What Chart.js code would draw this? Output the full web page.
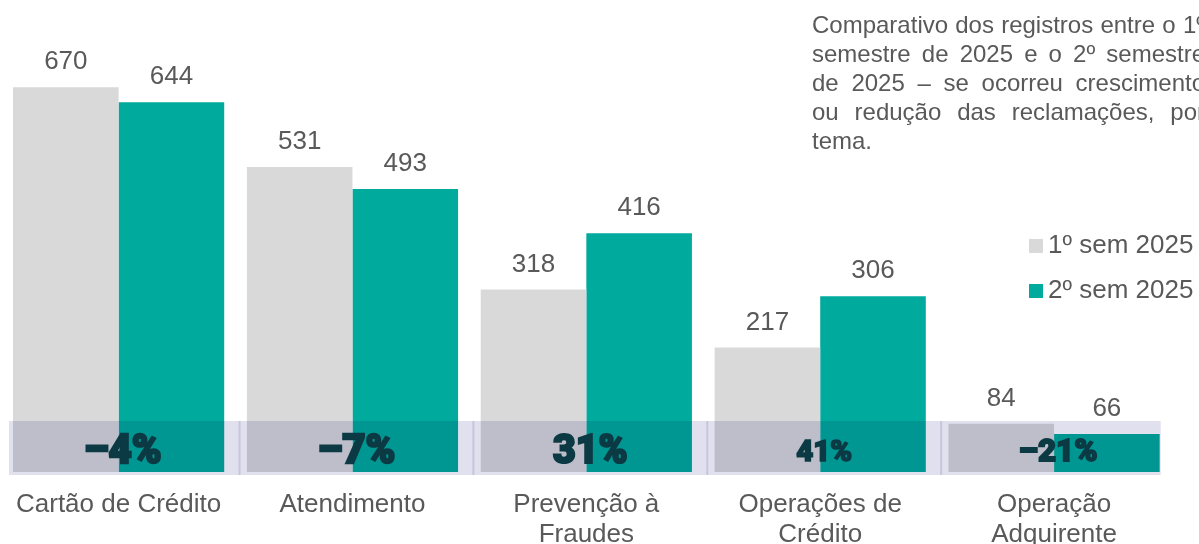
<!DOCTYPE html>
<html>
<head>
<meta charset="UTF-8" />
<script src="https://cdn.jsdelivr.net/npm/chart.js"></script>
<style>
  body, html {
    margin: 0;
    padding: 0;
    background: #ffffff;
    overflow: hidden;
    width: 1199px;
    height: 544px;
  }
  #wrap {
    position: relative;
    width: 1199px;
    height: 544px;
  }
  canvas {
    position: absolute;
    left: -2px;
    top: 0;
  }
  #note {
    position: absolute;
    left: 812px;
    top: 10px;
    width: 393px;
    font-family: "Liberation Sans", Arial, sans-serif;
    font-size: 24px;
    line-height: 29px;
    color: #595959;
    text-align: justify;
  }
  #legend {
    position: absolute;
    left: 1029px;
    top: 228px;
    font-family: "Liberation Sans", Arial, sans-serif;
    font-size: 26px;
    color: #595959;
    white-space: nowrap;
  }
  #legend div {
    height: 45px;
    line-height: 32px;
  }
  #legend span.box {
    display: inline-block;
    width: 14px;
    height: 14px;
    margin-right: 5px;
    vertical-align: 0px;
  }
</style>
</head>
<body>
<div id="wrap">
  <canvas id="myChart" width="1199" height="544"></canvas>
  <div id="note">Comparativo dos registros entre o 1º semestre de 2025 e o 2º semestre de 2025 – se ocorreu crescimento ou redução das reclamações, por tema.</div>
  <div id="legend"></div>
</div>
<script>
  const categories = [
    'Cartão de Crédito',
    'Atendimento',
    ['Prevenção à', 'Fraudes'],
    ['Operações de', 'Crédito'],
    ['Operação', 'Adquirente']
  ];
  const seriesNames = ['1º sem 2025', '2º sem 2025'];
  const sem1 = [670, 531, 318, 217, 84];
  const sem2 = [644, 493, 416, 306, 66];

  const colors = ['#d9d9d9', '#00ab9d'];
  const textColor = '#595959';
  const pctSizes = [41, 41, 40, 30, 32];

  // legend (html)
  const legendEl = document.getElementById('legend');
  seriesNames.forEach((name, i) => {
    const row = document.createElement('div');
    row.innerHTML = '<span class="box" style="background:' + colors[i] + '"></span>' + name;
    legendEl.appendChild(row);
  });

  function pctLabel(a, b) {
    const p = Math.round((b - a) / a * 100);
    return (p < 0 ? '–' + Math.abs(p) : '' + p) + '%';
  }

  const overlayPlugin = {
    id: 'overlay',
    afterDatasetsDraw(chart) {
      const ctx = chart.ctx;
      const x = chart.scales.x;
      const area = chart.chartArea;
      const m0 = chart.getDatasetMeta(0).data;
      const m1 = chart.getDatasetMeta(1).data;
      const left = m0[0].x - m0[0].width / 2 - 4;
      const right = m1[m1.length - 1].x + m1[m1.length - 1].width / 2 + 1;
      const top = area.bottom - 51;
      const bottom = area.bottom + 3;

      ctx.save();
      ctx.globalCompositeOperation = 'multiply';
      ctx.fillStyle = 'rgb(224,224,238)';
      ctx.fillRect(left, top, right - left, bottom - top);
      // separators between topics
      ctx.fillStyle = 'rgb(226,226,238)';
      for (let i = 0; i < categories.length - 1; i++) {
        const sx = (x.getPixelForValue(i) + x.getPixelForValue(i + 1)) / 2 + 4;
        ctx.fillRect(sx - 1, top, 2, bottom - top);
      }
      ctx.restore();

      // variation labels
      ctx.save();
      ctx.fillStyle = '#0b3a44';
      ctx.strokeStyle = '#0b3a44';
      ctx.lineJoin = 'miter';
      ctx.textAlign = 'center';
      ctx.textBaseline = 'middle';
      sem1.forEach((v, i) => {
        ctx.font = '900 ' + pctSizes[i] + 'px Roboto, "Liberation Sans", sans-serif';
        ctx.lineWidth = pctSizes[i] / 18;
        const cx = x.getPixelForValue(i) + 4;
        ctx.save();
        ctx.translate(cx, area.bottom - 19);
        ctx.scale(0.98, 1);
        const t = pctLabel(v, sem2[i]);
        ctx.strokeText(t, 0, 0);
        ctx.fillText(t, 0, 0);
        ctx.restore();
      });
      ctx.restore();

      // value labels above bars
      ctx.save();
      ctx.fillStyle = textColor;
      ctx.font = '26px "Liberation Sans", Arial, sans-serif';
      ctx.textAlign = 'center';
      ctx.textBaseline = 'middle';
      [m0, m1].forEach((meta, d) => {
        const vals = d === 0 ? sem1 : sem2;
        meta.forEach((bar, i) => {
          ctx.fillText(String(vals[i]), bar.x, bar.y - 25);
        });
      });
      ctx.restore();
    }
  };

  const ctx = document.getElementById('myChart').getContext('2d');
  new Chart(ctx, {
    type: 'bar',
    data: {
      labels: categories,
      datasets: [
        { label: seriesNames[0], data: sem1, backgroundColor: colors[0] },
        { label: seriesNames[1], data: sem2, backgroundColor: colors[1] }
      ]
    },
    options: {
      responsive: false,
      animation: false,
      events: [],
      layout: { padding: { left: 0, right: 26, top: 0, bottom: 0 } },
      datasets: {
        bar: { categoryPercentage: 0.903, barPercentage: 1.0 }
      },
      plugins: {
        legend: { display: false },
        tooltip: { enabled: false }
      },
      scales: {
        y: {
          display: false,
          min: 0,
          max: 822
        },
        x: {
          grid: { display: false, drawTicks: false },
          border: { display: false },
          ticks: {
            color: textColor,
            padding: 18,
            maxRotation: 0,
            autoSkip: false,
            font: { family: '"Liberation Sans", Arial, sans-serif', size: 26, lineHeight: 1.15 }
          },
          afterFit(scale) {
            scale.height = 72;
          }
        }
      }
    },
    plugins: [overlayPlugin]
  });
</script>
</body>
</html>
